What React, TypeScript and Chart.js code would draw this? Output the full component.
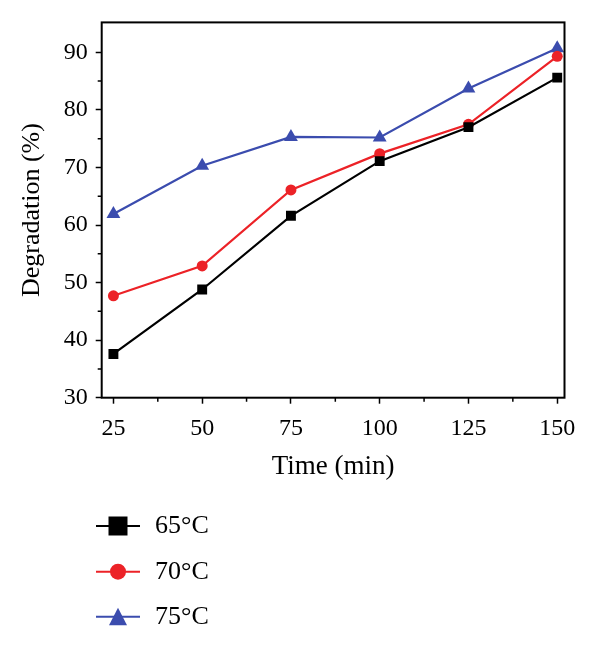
import React, { useEffect, useRef } from "react";
import { Chart, registerables } from "chart.js";

Chart.register(...registerables);

const times = [25, 50, 75, 100, 125, 150];
const deg65 = [37.6, 48.8, 61.6, 71.1, 77.0, 85.6];
const deg70 = [47.7, 52.9, 66.1, 72.4, 77.5, 89.3];
const deg75 = [61.9, 70.3, 75.3, 75.2, 83.7, 90.7];
const seriesLabels = ["65°C", "70°C", "75°C"];
const xTickValues = [25, 50, 75, 100, 125, 150];
const yTickValues = [30, 40, 50, 60, 70, 80, 90];
const xMinorTicks = [37.5, 62.5, 87.5, 112.5, 137.5];
const yMinorTicks = [35, 45, 55, 65, 75, 85];

const FONT = "'Liberation Serif', 'DejaVu Serif', serif";
const BLACK = "#000000";
const RED = "#ec2227";
const BLUE = "#3b4cae";

const frame = {
  id: "frame",
  afterDraw(chart: any) {
    const { ctx, chartArea, scales } = chart;
    ctx.save();
    ctx.strokeStyle = "#000";
    ctx.lineWidth = 2;
    ctx.strokeRect(chartArea.left, chartArea.top, chartArea.right - chartArea.left, chartArea.bottom - chartArea.top);
    ctx.lineWidth = 1.5;
    ctx.beginPath();
    for (const v of yMinorTicks) {
      const y = scales.y.getPixelForValue(v);
      ctx.moveTo(chartArea.left - 4, y);
      ctx.lineTo(chartArea.left, y);
    }
    for (const v of xMinorTicks) {
      const x = scales.x.getPixelForValue(v);
      ctx.moveTo(x, chartArea.bottom);
      ctx.lineTo(x, chartArea.bottom + 4);
    }
    ctx.stroke();

    // legend
    const rows = [526, 571.7, 616.7];
    const styles = ["rect", "circle", "triangle"];
    chart.data.datasets.forEach((ds: any, i: number) => {
      const y = rows[i];
      ctx.strokeStyle = ds.borderColor;
      ctx.fillStyle = ds.backgroundColor;
      ctx.lineWidth = 2;
      ctx.beginPath();
      ctx.moveTo(96, y);
      ctx.lineTo(140, y);
      ctx.stroke();
      const cx = 118;
      ctx.beginPath();
      if (styles[i] === "rect") {
        ctx.rect(cx - 9.5, y - 9.5, 19, 19);
      } else if (styles[i] === "circle") {
        ctx.arc(cx, y, 8, 0, Math.PI * 2);
      } else {
        ctx.moveTo(cx, y - 9);
        ctx.lineTo(cx + 9, y + 8.5);
        ctx.lineTo(cx - 9, y + 8.5);
        ctx.closePath();
      }
      ctx.fill();
      ctx.fillStyle = "#000";
      ctx.font = `26px ${FONT}`;
      ctx.textBaseline = "middle";
      ctx.textAlign = "left";
      ctx.fillText(ds.label, 155, y);
    });
    ctx.restore();
  },
};

export default function App() {
  const ref = useRef<HTMLCanvasElement>(null);
  useEffect(() => {
    document.body.style.margin = "0";
    const mk = (vals: number[]) => times.map((t, i) => ({ x: t, y: vals[i] }));
    const chart = new Chart(ref.current!, {
      type: "line",
      data: {
        datasets: [
          { label: seriesLabels[0], data: mk(deg65), borderColor: BLACK, backgroundColor: BLACK, borderWidth: 2.2, pointStyle: "rect", pointRadius: 7, pointBorderWidth: 0 },
          { label: seriesLabels[1], data: mk(deg70), borderColor: RED, backgroundColor: RED, borderWidth: 2.2, pointStyle: "circle", pointRadius: 5.5, pointBorderWidth: 0 },
          { label: seriesLabels[2], data: mk(deg75), borderColor: BLUE, backgroundColor: BLUE, borderWidth: 2.2, pointStyle: "triangle", pointRadius: 8, pointBorderWidth: 0 },
        ],
      },
      options: {
        responsive: false,
        animation: false,
        layout: { padding: { left: 0, top: 22, right: 35.5, bottom: 165.3 } },
        plugins: { legend: { display: false }, tooltip: { enabled: false } },
        scales: {
          x: {
            type: "linear",
            min: 21.7,
            max: 152.05,
            afterBuildTicks: (s: any) => { s.ticks = xTickValues.map((v) => ({ value: v })); },
            afterFit: (s: any) => { s.height = 85; },
            border: { display: false },
            grid: { drawOnChartArea: false, drawTicks: true, tickLength: 6, tickColor: "#000", tickWidth: 1.5 },
            ticks: { color: "#000", font: { family: FONT, size: 24 }, padding: 11, maxRotation: 0 },
            title: { display: true, text: "Time (min)", color: "#000", font: { family: FONT, size: 27 }, padding: { top: 0, bottom: 0 } },
          },
          y: {
            type: "linear",
            min: 30,
            max: 95.2,
            afterBuildTicks: (s: any) => { s.ticks = yTickValues.map((v) => ({ value: v })); },
            afterFit: (s: any) => { s.width = 101.7; },
            border: { display: false },
            grid: { drawOnChartArea: false, drawTicks: true, tickLength: 6, tickColor: "#000", tickWidth: 1.5 },
            ticks: { color: "#000", font: { family: FONT, size: 24 }, padding: 8 },
            title: { display: true, text: "Degradation (%)", color: "#000", font: { family: FONT, size: 26 }, padding: { top: 17, bottom: 0 } },
          },
        },
      },
      plugins: [frame],
    });
    return () => chart.destroy();
  }, []);
  return <canvas ref={ref} width={600} height={648} style={{ display: "block" }} />;
}
